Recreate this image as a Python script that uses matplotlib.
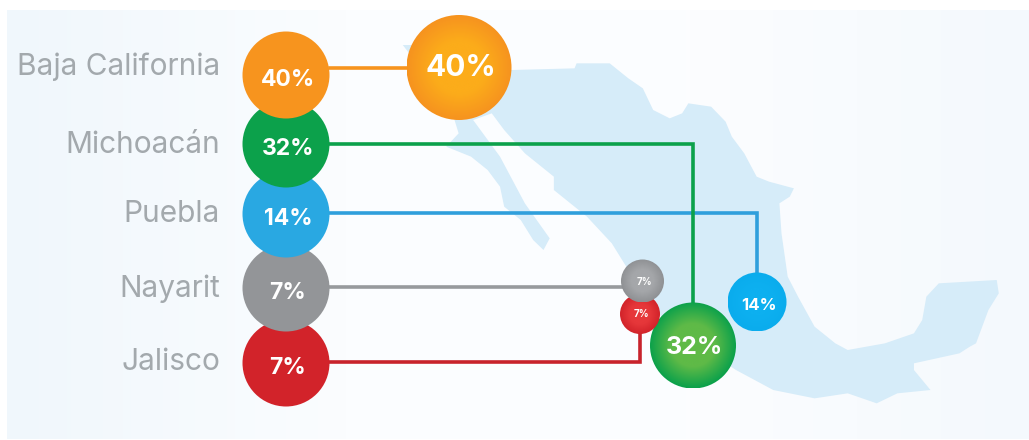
import numpy as np
import matplotlib
matplotlib.use("Agg")
import matplotlib.pyplot as plt
from matplotlib.patches import Circle, Polygon
from matplotlib.colors import LinearSegmentedColormap

regions = ["Baja California", "Michoacán", "Puebla", "Nayarit", "Jalisco"]
shares = [40, 32, 14, 7, 7]

# layout, in pixels of the 1029x440 picture
row_y = [75, 144, 214, 288, 363]
line_y = [68, 144, 213, 287, 362]
label_y = [67, 145, 214, 289, 362]
bubble_x = [459, 693, 757, 642.5, 640]
bubble_y = [67.5, 345.5, 302, 281, 314]
bubble_r = [52.5, 43, 29.5, 21.5, 20]
bubble_font = [21.5, 18, 12, 7, 7]
text_dy = [1, 2, 3, 1, 0]

colors = ["#f7941e", "#0ca14b", "#29a8e2", "#939598", "#d2232a"]
inner = ["#fcac1a", "#5fba47", "#0db0f0", "#a5a7aa", "#e6373a"]
edge = ["#f6931f", "#0ca14b", "#0aaced", "#8f9194", "#d2232a"]

# outline of the map, as seen in the zoom (stretched 2.416 x 3)
mainland = [(55, 135), (75, 135), (200, 210), (320, 210), (470, 205), (475, 190), (555, 190), (600, 235),
            (635, 265), (660, 330), (700, 355), (730, 340), (745, 310), (800, 320), (835, 365), (850, 410),
            (880, 460), (910, 530), (940, 545), (1000, 565), (990, 590), (965, 610), (970, 700), (985, 830),
            (1010, 890), (1050, 980), (1100, 1030), (1130, 1050), (1220, 1030), (1290, 1000), (1310, 960),
            (1320, 890), (1350, 850), (1490, 840), (1495, 880), (1470, 930), (1440, 1030), (1425, 1040),
            (1400, 1060), (1290, 1090), (1290, 1110), (1330, 1170), (1250, 1180), (1200, 1210), (1130, 1180),
            (1050, 1195), (950, 1170), (860, 1110), (800, 1060), (680, 950), (620, 850), (560, 730), (500, 650),
            (420, 570), (420, 530), (350, 460), (300, 390), (270, 340), (225, 360), (290, 470), (350, 610),
            (410, 715), (395, 750), (370, 720), (340, 660), (300, 620), (290, 560), (260, 510), (220, 470),
            (160, 440), (190, 400), (180, 360), (120, 240)]
mainland = [(380 + x / 2.416, y / 3) for x, y in mainland]

fig = plt.figure(figsize=(10.29, 4.40), dpi=100)
ax = fig.add_axes([0, 0, 1, 1])
ax.axis("off")

# pale panel, bluish at both sides
bg = LinearSegmentedColormap.from_list("bg", ["#f0f7fc", "#fbfdff", "#fcfdff", "#f4f9fd"])
ax.imshow(np.linspace(0, 1, 256).reshape(1, -1), cmap=bg, extent=(7, 1029, 439, 10), aspect="auto", zorder=0)
ax.add_patch(Polygon(mainland, closed=True, fc="#d6ecf9", ec="none", zorder=1))

# connector lines
lw = 2.6
ax.plot([330, 406], [line_y[0], line_y[0]], color=colors[0], lw=lw, zorder=2, solid_joinstyle="miter")
ax.plot([330, bubble_x[1], bubble_x[1]], [line_y[1], line_y[1], 303], color="#0ca14b", lw=lw, zorder=3,
        solid_joinstyle="miter")
ax.plot([330, bubble_x[2], bubble_x[2]], [line_y[2], line_y[2], 273], color="#2f9fdc", lw=lw, zorder=2,
        solid_joinstyle="miter")
ax.plot([330, 622], [line_y[3], line_y[3]], color="#979a9d", lw=lw, zorder=2)
ax.plot([330, 639.5, 639.5], [line_y[4], line_y[4], 330], color="#c8232c", lw=lw, zorder=2,
        solid_joinstyle="miter")

# left column, the upper circle sits over the lower one
for i in range(len(regions) - 1, -1, -1):
    z = 10 + (len(regions) - i)
    ax.add_patch(Circle((286, row_y[i]), 43.5, fc=colors[i], ec="none", zorder=z))
    ax.text(288, row_y[i] + 5, str(shares[i]) + "%", color="white", fontsize=16.5, fontweight="bold",
            family="Inter", ha="center", va="center", zorder=z + 0.5)
    ax.text(220, label_y[i], regions[i], color="#a3a9ad", fontsize=21.5, family="Inter",
            ha="right", va="center", zorder=z)

# bubbles on the map with a soft radial fill
yy, xx = np.mgrid[-1:1:200j, -1:1:200j]
dist = np.clip(np.sqrt(xx ** 2 + yy ** 2), 0, 1)
order = [0, 2, 1, 4, 3]
for n, i in enumerate(order):
    x, y, r = bubble_x[i], bubble_y[i], bubble_r[i]
    cm = LinearSegmentedColormap.from_list("b" + str(i), [inner[i], inner[i], edge[i]])
    z = 30 + n
    im = ax.imshow(dist, cmap=cm, vmin=0, vmax=1, extent=(x - r, x + r, y + r, y - r), aspect="auto", zorder=z)
    im.set_clip_path(Circle((x, y), r, transform=ax.transData))
    ax.text(x + 1.5, y + text_dy[i], str(shares[i]) + "%", color="white", fontsize=bubble_font[i],
            fontweight="bold", family="Inter", ha="center", va="center", zorder=z + 0.5)
ax.set_xlim(0, 1029)
ax.set_ylim(440, 0)

fig.savefig("out.png", dpi=100)
